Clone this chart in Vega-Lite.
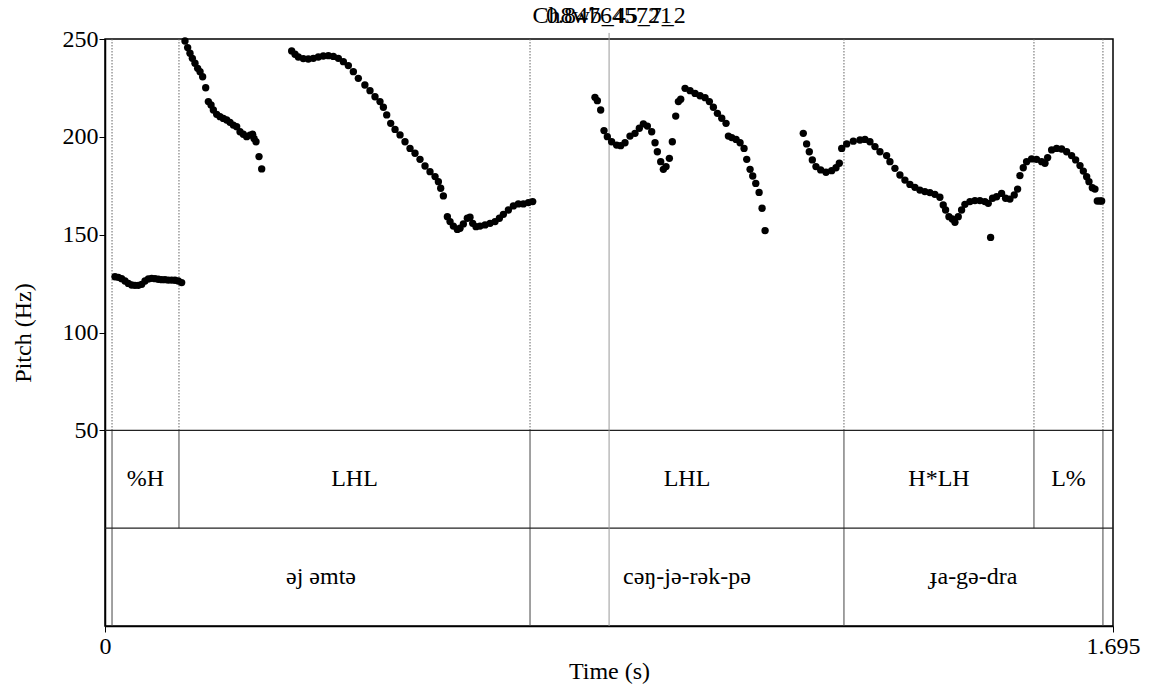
{
  "$schema": "https://vega.github.io/schema/vega-lite/v6.json",
  "width": 1008,
  "height": 587,
  "autosize": "none",
  "padding": {"left": 105, "top": 39, "right": 44, "bottom": 61},
  "background": "white",
  "datasets": {
    "pitch": [
      {"t":0.0168,"hz":128.5},{"t":0.0224,"hz":128.2},{"t":0.028,"hz":127.5},{"t":0.0336,"hz":126.3},{"t":0.0392,"hz":125.1},{"t":0.0448,"hz":124.3},{"t":0.0504,"hz":124.1},{"t":0.056,"hz":124.1},{"t":0.0617,"hz":124.6},{"t":0.0673,"hz":126.3},{"t":0.0729,"hz":127.4},{"t":0.0785,"hz":127.7},{"t":0.0841,"hz":127.5},{"t":0.0897,"hz":127.2},{"t":0.0953,"hz":127.0},{"t":0.1009,"hz":127.0},{"t":0.1065,"hz":126.8},{"t":0.1121,"hz":126.8},{"t":0.1177,"hz":126.7},{"t":0.1233,"hz":126.3},{"t":0.1289,"hz":125.5},
      {"t":0.1345,"hz":249.0},{"t":0.139,"hz":245.6},{"t":0.1429,"hz":242.7},{"t":0.1469,"hz":240.1},{"t":0.1513,"hz":237.6},{"t":0.1558,"hz":235.0},{"t":0.1598,"hz":233.3},{"t":0.1642,"hz":230.7},{"t":0.1693,"hz":225.1},{"t":0.1738,"hz":218.0},{"t":0.1783,"hz":216.3},{"t":0.1822,"hz":213.7},{"t":0.1878,"hz":211.5},{"t":0.1934,"hz":210.3},{"t":0.199,"hz":209.4},{"t":0.2046,"hz":208.6},{"t":0.2102,"hz":207.4},{"t":0.2158,"hz":206.0},{"t":0.2214,"hz":205.2},{"t":0.227,"hz":202.6},{"t":0.2326,"hz":201.3},{"t":0.2382,"hz":200.1},{"t":0.2438,"hz":200.9},{"t":0.2483,"hz":201.3},{"t":0.2506,"hz":199.2},{"t":0.2539,"hz":197.5},{"t":0.259,"hz":189.9},{"t":0.2635,"hz":183.6},
      {"t":0.3139,"hz":243.9},{"t":0.3195,"hz":242.2},{"t":0.3251,"hz":240.8},{"t":0.3335,"hz":240.0},{"t":0.3419,"hz":239.8},{"t":0.3503,"hz":240.1},{"t":0.3587,"hz":240.8},{"t":0.3671,"hz":241.3},{"t":0.3756,"hz":241.5},{"t":0.384,"hz":241.1},{"t":0.3924,"hz":240.1},{"t":0.4008,"hz":238.4},{"t":0.4092,"hz":236.4},{"t":0.4176,"hz":233.3},{"t":0.426,"hz":229.9},
      {"t":0.437,"hz":226.5},{"t":0.4456,"hz":223.6},{"t":0.454,"hz":220.5},{"t":0.4624,"hz":218.0},{"t":0.4681,"hz":215.1},{"t":0.4737,"hz":211.2},{"t":0.4804,"hz":206.9},{"t":0.4877,"hz":203.8},{"t":0.4961,"hz":201.0},{"t":0.5045,"hz":197.5},{"t":0.5129,"hz":194.1},{"t":0.5213,"hz":191.6},{"t":0.5297,"hz":188.5},{"t":0.5381,"hz":185.1},{"t":0.5465,"hz":182.2},{"t":0.555,"hz":179.7},{"t":0.5606,"hz":177.1},{"t":0.5645,"hz":173.7},{"t":0.569,"hz":169.8},
      {"t":0.5757,"hz":159.2},{"t":0.5802,"hz":156.7},{"t":0.5858,"hz":154.4},{"t":0.5925,"hz":152.7},{"t":0.597,"hz":153.3},{"t":0.6026,"hz":155.5},{"t":0.6093,"hz":158.4},{"t":0.6138,"hz":158.9},{"t":0.6183,"hz":155.8},{"t":0.6239,"hz":154.1},{"t":0.6306,"hz":154.4},{"t":0.6391,"hz":155.0},{"t":0.6475,"hz":155.8},{"t":0.6559,"hz":156.7},{"t":0.6632,"hz":158.4},{"t":0.6699,"hz":160.4},{"t":0.6783,"hz":162.6},{"t":0.6867,"hz":164.7},{"t":0.6951,"hz":165.7},{"t":0.7035,"hz":165.7},{"t":0.7119,"hz":166.4},{"t":0.7192,"hz":166.9},
      {"t":0.8239,"hz":220.2},{"t":0.8279,"hz":218.5},{"t":0.8335,"hz":213.7},{"t":0.8391,"hz":203.2},{"t":0.8447,"hz":200.1},{"t":0.8519,"hz":197.5},{"t":0.8603,"hz":195.8},{"t":0.8671,"hz":195.5},{"t":0.8744,"hz":197.0},{"t":0.8828,"hz":200.4},{"t":0.8912,"hz":201.8},{"t":0.8985,"hz":204.4},{"t":0.9053,"hz":206.6},{"t":0.912,"hz":205.5},{"t":0.9193,"hz":202.6},{"t":0.9249,"hz":197.0},{"t":0.9288,"hz":192.4},{"t":0.9344,"hz":187.3},{"t":0.9389,"hz":183.4},{"t":0.9434,"hz":184.8},{"t":0.949,"hz":189.0},{"t":0.954,"hz":197.5},{"t":0.9597,"hz":210.6},{"t":0.9642,"hz":218.0},{"t":0.9681,"hz":219.2},{"t":0.9754,"hz":224.8},{"t":0.9838,"hz":223.6},{"t":0.9922,"hz":222.2},{"t":1.0006,"hz":221.0},{"t":1.009,"hz":220.0},{"t":1.0163,"hz":218.0},{"t":1.023,"hz":215.1},{"t":1.0298,"hz":212.0},{"t":1.0371,"hz":209.5},{"t":1.0443,"hz":206.9},{"t":1.0483,"hz":200.4},{"t":1.0539,"hz":199.6},{"t":1.0612,"hz":198.7},{"t":1.0679,"hz":197.0},{"t":1.0746,"hz":194.1},{"t":1.0791,"hz":188.5},{"t":1.0847,"hz":183.4},{"t":1.0892,"hz":180.0},{"t":1.0943,"hz":176.2},{"t":1.0999,"hz":171.6},{"t":1.1049,"hz":163.5},{"t":1.11,"hz":152.1},
      {"t":1.1742,"hz":201.8},{"t":1.1798,"hz":196.4},{"t":1.1843,"hz":192.4},{"t":1.1894,"hz":188.2},{"t":1.1955,"hz":184.8},{"t":1.2034,"hz":183.1},{"t":1.2124,"hz":181.9},{"t":1.2219,"hz":182.7},{"t":1.2292,"hz":184.2},{"t":1.2348,"hz":186.5},
      {"t":1.2388,"hz":194.1},{"t":1.2472,"hz":196.4},{"t":1.2583,"hz":197.8},{"t":1.2695,"hz":198.4},{"t":1.2779,"hz":198.7},{"t":1.2863,"hz":197.5},{"t":1.2947,"hz":195.0},{"t":1.3031,"hz":192.4},{"t":1.3143,"hz":190.4},{"t":1.3199,"hz":187.3},{"t":1.3283,"hz":183.9},{"t":1.3367,"hz":180.5},{"t":1.3451,"hz":177.9},{"t":1.3535,"hz":175.7},{"t":1.3619,"hz":174.2},{"t":1.3703,"hz":172.8},{"t":1.3787,"hz":172.0},{"t":1.3871,"hz":171.5},{"t":1.3955,"hz":170.6},{"t":1.4039,"hz":169.1},{"t":1.4095,"hz":165.2},{"t":1.4135,"hz":162.6},{"t":1.4191,"hz":159.2},{"t":1.4247,"hz":158.0},{"t":1.4292,"hz":156.3},{"t":1.4348,"hz":159.2},{"t":1.4404,"hz":162.6},{"t":1.446,"hz":165.5},{"t":1.4544,"hz":166.9},{"t":1.4628,"hz":167.4},{"t":1.4712,"hz":167.4},{"t":1.4796,"hz":166.9},{"t":1.4852,"hz":166.0},{"t":1.4892,"hz":148.6},{"t":1.4925,"hz":168.6},{"t":1.4993,"hz":169.4},{"t":1.5077,"hz":171.1},{"t":1.5144,"hz":168.6},{"t":1.5217,"hz":168.2},{"t":1.529,"hz":170.3},{"t":1.5346,"hz":173.3},{"t":1.5385,"hz":180.2},{"t":1.5441,"hz":184.2},{"t":1.5497,"hz":187.3},{"t":1.5581,"hz":188.7},{"t":1.5665,"hz":188.5},{"t":1.575,"hz":187.3},{"t":1.5806,"hz":186.5},{"t":1.5851,"hz":189.4},{"t":1.5918,"hz":193.3},{"t":1.6002,"hz":194.1},{"t":1.6086,"hz":193.8},{"t":1.617,"hz":192.4},{"t":1.6254,"hz":190.4},{"t":1.6322,"hz":188.2},{"t":1.6395,"hz":185.3},{"t":1.6451,"hz":182.5},{"t":1.6507,"hz":179.6},{"t":1.6546,"hz":177.1},{"t":1.6602,"hz":174.0},{"t":1.6647,"hz":173.3},{"t":1.6686,"hz":167.2},{"t":1.6731,"hz":167.2},{"t":1.6759,"hz":167.2}
    ],
    "tones": [
      {"start":0,"end":0.0118,"label":""},
      {"start":0.0118,"end":0.1244,"label":"%H"},
      {"start":0.1244,"end":0.7147,"label":"LHL"},
      {"start":0.7147,"end":1.2426,"label":"LHL"},
      {"start":1.2426,"end":1.5621,"label":"H*LH"},
      {"start":1.5621,"end":1.6781,"label":"L%"},
      {"start":1.6781,"end":1.695,"label":""}
    ],
    "words": [
      {"start":0,"end":0.0118,"label":""},
      {"start":0.0118,"end":0.7147,"label":"əj əmtə"},
      {"start":0.7147,"end":1.2426,"label":"cəŋ-jə-rək-pə"},
      {"start":1.2426,"end":1.6781,"label":"ɟa-gə-dra"},
      {"start":1.6781,"end":1.695,"label":""}
    ],
    "header": [
      {"label":"0.847645721"},
      {"label":"Ch8wb_45_7_2"}
    ]
  },
  "layer": [
    {
      "data": {"name": "tones"},
      "transform": [{"filter": "datum.start > 0"}],
      "mark": {"type": "rule", "color": "#666", "strokeWidth": 1, "strokeDash": [1.5, 1.5]},
      "encoding": {
        "x": {"field": "start", "type": "quantitative", "title": "Time (s)"},
        "y": {"datum": 250},
        "y2": {"datum": 50}
      }
    },
    {
      "data": {"name": "tones"},
      "transform": [{"filter": "datum.start > 0"}],
      "mark": {"type": "rule", "color": "#444", "strokeWidth": 1},
      "encoding": {
        "x": {"field": "start", "type": "quantitative", "title": "Time (s)"},
        "y": {"datum": 50},
        "y2": {"datum": 0}
      }
    },
    {
      "data": {"name": "words"},
      "transform": [{"filter": "datum.start > 0"}],
      "mark": {"type": "rule", "color": "#444", "strokeWidth": 1},
      "encoding": {
        "x": {"field": "start", "type": "quantitative", "title": "Time (s)"},
        "y": {"datum": 0},
        "y2": {"datum": -50}
      }
    },
    {
      "data": {"values": [{"v": 50}, {"v": 0}]},
      "mark": {"type": "rule", "color": "#222", "strokeWidth": 1.2},
      "encoding": {
        "y": {"field": "v", "type": "quantitative", "title": "Pitch (Hz)"}
      }
    },
    {
      "data": {"values": [{"c": 0.847645721}]},
      "mark": {"type": "rule", "color": "#999", "strokeWidth": 1},
      "encoding": {
        "x": {"field": "c", "type": "quantitative", "title": "Time (s)"},
        "y": {"datum": 253.1},
        "y2": {"datum": -50}
      }
    },
    {
      "data": {"name": "pitch"},
      "mark": {"type": "circle", "color": "black", "opacity": 1, "size": 54},
      "encoding": {
        "x": {
          "field": "t", "type": "quantitative", "title": "Time (s)",
          "scale": {"domain": [0, 1.695], "nice": false, "zero": false},
          "axis": {"values": [0, 1.695], "format": ".3~f", "labelPadding": 2, "titlePadding": 1}
        },
        "y": {
          "field": "hz", "type": "quantitative", "title": "Pitch (Hz)",
          "scale": {"domain": [-50, 250], "nice": false, "zero": false},
          "axis": {"values": [50, 100, 150, 200, 250], "labelPadding": 1, "titlePadding": 27}
        }
      }
    },
    {
      "data": {"name": "tones"},
      "transform": [{"calculate": "(datum.start + datum.end) / 2", "as": "mid"}],
      "mark": {"type": "text", "font": "Liberation Serif", "fontSize": 24, "color": "black", "baseline": "middle", "align": "center"},
      "encoding": {
        "x": {"field": "mid", "type": "quantitative", "title": "Time (s)"},
        "y": {"datum": 25},
        "text": {"field": "label"}
      }
    },
    {
      "data": {"name": "words"},
      "transform": [{"calculate": "(datum.start + datum.end) / 2", "as": "mid"}],
      "mark": {"type": "text", "font": "Liberation Serif", "fontSize": 24, "color": "black", "baseline": "middle", "align": "center"},
      "encoding": {
        "x": {"field": "mid", "type": "quantitative", "title": "Time (s)"},
        "y": {"datum": -25},
        "text": {"field": "label"}
      }
    },
    {
      "data": {"name": "header"},
      "mark": {"type": "text", "font": "Liberation Serif", "fontSize": 24, "color": "black", "baseline": "middle", "align": "center"},
      "encoding": {
        "x": {"datum": 0.847645721},
        "y": {"datum": 261.5},
        "text": {"field": "label"}
      }
    }
  ],
  "config": {
    "view": {"stroke": "black", "strokeWidth": 1.5},
    "axis": {
      "labelFont": "Liberation Serif", "titleFont": "Liberation Serif",
      "labelFontSize": 24, "titleFontSize": 24, "titleFontWeight": "normal",
      "labelColor": "black", "titleColor": "black",
      "domainColor": "black", "domainWidth": 1.5,
      "tickColor": "black", "tickSize": 6, "tickWidth": 1,
      "grid": false, "labelFlush": false, "labelOverlap": false
    }
  }
}
